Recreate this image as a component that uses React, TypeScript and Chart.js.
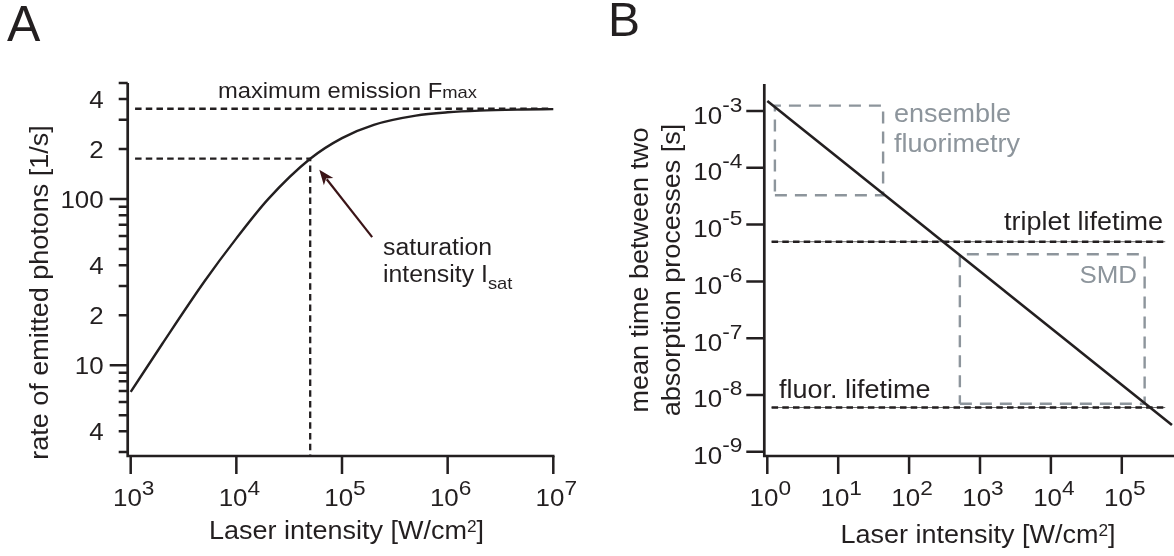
import React, { useEffect, useRef } from 'react';
import { Chart, registerables } from 'chart.js';

Chart.register(...registerables);

const FONT = '"Liberation Sans", Arial, Helvetica, sans-serif';
const INK = '#231f20';
const GRAY = '#8d959c';
const ARROW_COLOR = '#3b1417';
const STRETCH = 1.08;

// ---------- Panel A: saturation curve ----------
const laserIntensityA = [1e3, 2e3, 5e3, 1e4, 2e4, 5e4, 1e5, 2e5, 5e5, 1e6, 2e6, 5e6, 1e7];
const emissionRateA = [6.9, 13.5, 32, 58, 100, 175, 233, 280, 318, 333, 341, 346, 348];
const maxEmission = 350;
const maxEmissionLineX = [1.1e3, 9.3e6];
const satIntensity = 5e4;
const halfEmission = 175;
const satLineStartX = 1.1e3;
const satLineBottomY = 2.85;
const arrowTailA = [1.93e5, 59];
const arrowTipA = [6.1e4, 150];
const xLimitsA = [1e3, 1e7];
const yLimitsA = [3, 500];
const xTickValuesA = [1e3, 1e4, 1e5, 1e6, 1e7];
const xTickExponentsA = ['3', '4', '5', '6', '7'];
const yLabelValuesA = [4, 10, 20, 40, 100, 200, 400];
const yLabelTextsA = ['4', '10', '2', '4', '100', '2', '4'];
const yMajorTicksA = [10, 100];
const yMinorTicksA = [3, 4, 5, 6, 7, 8, 9, 20, 30, 40, 50, 60, 70, 80, 90, 200, 300, 400, 500];

// ---------- Panel B: mean time between absorptions ----------
const laserIntensityB = [1, 5.1e5];
const meanTimeB = [1.5e-3, 2.95e-9];
const tripletLifetime = 5e-6;
const fluorLifetime = 6e-9;
const lifetimeLineX = [1.15, 4.1e5];
const ensembleBoxX = [1.28, 43];
const ensembleBoxY = [3.3e-5, 1.25e-3];
const smdBoxX = [520, 2.1e5];
const smdBoxY = [7e-9, 3e-6];
const xLimitsB = [1, 5.45e5];
const yLimitsB = [1e-9, 3e-3];
const xTickValuesB = [1, 10, 100, 1e3, 1e4, 1e5];
const xTickExponentsB = ['0', '1', '2', '3', '4', '5'];
const yTickValuesB = [1e-9, 1e-8, 1e-7, 1e-6, 1e-5, 1e-4, 1e-3];
const yTickExponentsB = ['-9', '-8', '-7', '-6', '-5', '-4', '-3'];

type Part = { t: string; size: number; dy?: number; color?: string };

function drawParts(
  ctx: CanvasRenderingContext2D,
  parts: Part[],
  x: number,
  y: number,
  align: 'left' | 'center' | 'right' = 'left',
  rot = 0,
  sx = STRETCH
) {
  ctx.save();
  ctx.translate(x, y);
  if (rot) ctx.rotate(rot);
  ctx.scale(sx, 1);
  ctx.textBaseline = 'alphabetic';
  ctx.textAlign = 'left';
  let total = 0;
  const widths = parts.map((p) => {
    ctx.font = `${p.size}px ${FONT}`;
    const w = ctx.measureText(p.t).width;
    total += w;
    return w;
  });
  let cx = align === 'left' ? 0 : align === 'center' ? -total / 2 : -total;
  parts.forEach((p, i) => {
    ctx.font = `${p.size}px ${FONT}`;
    ctx.fillStyle = p.color || INK;
    ctx.fillText(p.t, cx, p.dy || 0);
    cx += widths[i];
  });
  ctx.restore();
}

function seg(points: { x: number; y: number }[], color: string, width: number, dash: number[] = []) {
  return {
    data: points,
    showLine: true,
    borderColor: color,
    borderWidth: width,
    borderDash: dash,
    pointRadius: 0,
    tension: 0,
    fill: false,
    clip: false as any,
  };
}

function boxPoints(xr: number[], yr: number[]) {
  return [
    { x: xr[0], y: yr[0] },
    { x: xr[1], y: yr[0] },
    { x: xr[1], y: yr[1] },
    { x: xr[0], y: yr[1] },
    { x: xr[0], y: yr[0] },
  ];
}

const BLACK_DASH = [6.5, 4.2];
const GRAY_DASH = [12, 8];

function datasetsA() {
  return [
    {
      ...seg(
        laserIntensityA.map((x, i) => ({ x, y: emissionRateA[i] })),
        INK,
        2.4
      ),
      cubicInterpolationMode: 'monotone',
    },
    seg(
      [
        { x: maxEmissionLineX[0], y: maxEmission },
        { x: maxEmissionLineX[1], y: maxEmission },
      ],
      INK,
      2.3,
      BLACK_DASH
    ),
    seg(
      [
        { x: satLineStartX, y: halfEmission },
        { x: satIntensity, y: halfEmission },
        { x: satIntensity, y: satLineBottomY },
      ],
      INK,
      2.3,
      BLACK_DASH
    ),
  ];
}

function datasetsB() {
  return [
    seg(
      laserIntensityB.map((x, i) => ({ x, y: meanTimeB[i] })),
      INK,
      2.6
    ),
    seg(
      [
        { x: lifetimeLineX[0], y: tripletLifetime },
        { x: lifetimeLineX[1], y: tripletLifetime },
      ],
      INK,
      2.4,
      BLACK_DASH
    ),
    seg(
      [
        { x: lifetimeLineX[0], y: tripletLifetime },
        { x: lifetimeLineX[1], y: tripletLifetime },
      ],
      '#6a6a6a',
      1
    ),
    seg(
      [
        { x: lifetimeLineX[0], y: fluorLifetime },
        { x: lifetimeLineX[1], y: fluorLifetime },
      ],
      INK,
      2.4,
      BLACK_DASH
    ),
    seg(
      [
        { x: lifetimeLineX[0], y: fluorLifetime },
        { x: lifetimeLineX[1], y: fluorLifetime },
      ],
      '#6a6a6a',
      1
    ),
    seg(boxPoints(ensembleBoxX, ensembleBoxY), GRAY, 2.4, GRAY_DASH),
    seg(boxPoints(smdBoxX, smdBoxY), GRAY, 2.4, GRAY_DASH),
  ];
}

const panelAPlugin = {
  id: 'panelA',
  afterDatasetsDraw(chart: any) {
    const ctx: CanvasRenderingContext2D = chart.ctx;
    const ca = chart.chartArea;
    const xs = chart.scales.x;
    const ys = chart.scales.y;
    const axX = ca.left - 3;
    const axY = ca.bottom + 4;
    ctx.save();
    ctx.strokeStyle = INK;
    ctx.lineCap = 'butt';
    ctx.lineWidth = 2.7;
    ctx.beginPath();
    ctx.moveTo(axX, ca.top);
    ctx.lineTo(axX, axY + 1.35);
    ctx.moveTo(axX - 1.35, axY);
    ctx.lineTo(ca.right + 1.2, axY);
    ctx.stroke();

    ctx.lineWidth = 2.5;
    ctx.beginPath();
    yMinorTicksA.forEach((v) => {
      const p = ys.getPixelForValue(v);
      ctx.moveTo(axX, p);
      ctx.lineTo(axX - 9, p);
    });
    yMajorTicksA.forEach((v) => {
      const p = ys.getPixelForValue(v);
      ctx.moveTo(axX, p);
      ctx.lineTo(axX - 18, p);
    });
    xTickValuesA.forEach((v) => {
      const p = xs.getPixelForValue(v);
      ctx.moveTo(p, axY);
      ctx.lineTo(p, axY + 18);
    });
    ctx.stroke();

    yLabelValuesA.forEach((v, i) =>
      drawParts(ctx, [{ t: yLabelTextsA[i], size: 24 }], axX - 24, ys.getPixelForValue(v) + 8.5, 'right')
    );
    xTickValuesA.forEach((v, i) =>
      drawParts(
        ctx,
        [
          { t: '10', size: 24 },
          { t: xTickExponentsA[i], size: 21, dy: -11 },
        ],
        xs.getPixelForValue(v) + 3,
        506,
        'center'
      )
    );

    drawParts(
      ctx,
      [
        { t: 'Laser intensity [W/cm', size: 25 },
        { t: '2', size: 16, dy: -7 },
        { t: ']', size: 25 },
      ],
      346.5,
      539,
      'center'
    );
    drawParts(ctx, [{ t: 'rate of emitted photons [1/s]', size: 25 }], 48, 292.5, 'center', -Math.PI / 2);

    drawParts(
      ctx,
      [
        { t: 'maximum emission F', size: 22 },
        { t: 'max', size: 17 },
      ],
      477,
      98,
      'right'
    );
    drawParts(ctx, [{ t: 'saturation', size: 23 }], 383, 255, 'left');
    drawParts(
      ctx,
      [
        { t: 'intensity I', size: 23 },
        { t: 'sat', size: 17, dy: 7 },
      ],
      383,
      282,
      'left'
    );

    // arrow
    const tx = xs.getPixelForValue(arrowTipA[0]);
    const ty = ys.getPixelForValue(arrowTipA[1]);
    const fx = xs.getPixelForValue(arrowTailA[0]);
    const fy = ys.getPixelForValue(arrowTailA[1]);
    const ang = Math.atan2(ty - fy, tx - fx);
    const hl = 15;
    const hw = 6;
    const bx = tx - hl * Math.cos(ang);
    const by = ty - hl * Math.sin(ang);
    ctx.strokeStyle = ARROW_COLOR;
    ctx.fillStyle = ARROW_COLOR;
    ctx.lineWidth = 2.2;
    ctx.beginPath();
    ctx.moveTo(fx, fy);
    ctx.lineTo(bx + 3 * Math.cos(ang), by + 3 * Math.sin(ang));
    ctx.stroke();
    ctx.beginPath();
    ctx.moveTo(tx, ty);
    ctx.lineTo(bx + hw * Math.sin(ang), by - hw * Math.cos(ang));
    ctx.lineTo(bx + 4 * Math.cos(ang), by + 4 * Math.sin(ang));
    ctx.lineTo(bx - hw * Math.sin(ang), by + hw * Math.cos(ang));
    ctx.closePath();
    ctx.fill();

    drawParts(ctx, [{ t: 'A', size: 50 }], 7, 41, 'left', 0, 1);
    ctx.restore();
  },
};

const panelBPlugin = {
  id: 'panelB',
  afterDatasetsDraw(chart: any) {
    const ctx: CanvasRenderingContext2D = chart.ctx;
    const ca = chart.chartArea;
    const xs = chart.scales.x;
    const ys = chart.scales.y;
    const axX = ca.left - 3;
    const axY = ca.bottom + 4.3;
    ctx.save();
    ctx.strokeStyle = INK;
    ctx.lineCap = 'butt';
    ctx.lineWidth = 2.7;
    ctx.beginPath();
    ctx.moveTo(axX, ca.top);
    ctx.lineTo(axX, axY + 1.35);
    ctx.moveTo(axX - 1.35, axY);
    ctx.lineTo(ca.right + 2, axY);
    ctx.stroke();

    ctx.lineWidth = 2.5;
    ctx.beginPath();
    yTickValuesB.forEach((v) => {
      const p = ys.getPixelForValue(v);
      ctx.moveTo(axX, p);
      ctx.lineTo(axX - 18, p);
    });
    xTickValuesB.forEach((v) => {
      const p = xs.getPixelForValue(v);
      ctx.moveTo(p, axY);
      ctx.lineTo(p, axY + 18);
    });
    ctx.stroke();

    yTickValuesB.forEach((v, i) =>
      drawParts(
        ctx,
        [
          { t: '10', size: 24 },
          { t: yTickExponentsB[i], size: 21, dy: -12 },
        ],
        axX - 22,
        ys.getPixelForValue(v) + 12.5,
        'right'
      )
    );
    xTickValuesB.forEach((v, i) =>
      drawParts(
        ctx,
        [
          { t: '10', size: 24 },
          { t: xTickExponentsB[i], size: 21, dy: -11 },
        ],
        xs.getPixelForValue(v) + 3,
        506,
        'center'
      )
    );

    drawParts(
      ctx,
      [
        { t: 'Laser intensity [W/cm', size: 25 },
        { t: '2', size: 16, dy: -7 },
        { t: ']', size: 25 },
      ],
      391,
      543,
      'center'
    );
    drawParts(ctx, [{ t: 'mean time between two', size: 25 }], 61, 270, 'center', -Math.PI / 2);
    drawParts(ctx, [{ t: 'absorption processes [s]', size: 25 }], 93, 270, 'center', -Math.PI / 2);

    drawParts(ctx, [{ t: 'ensemble', size: 25, color: GRAY }], 307, 122, 'left');
    drawParts(ctx, [{ t: 'fluorimetry', size: 25, color: GRAY }], 307, 152, 'left');
    drawParts(ctx, [{ t: 'SMD', size: 24, color: GRAY }], 550, 283, 'right');
    drawParts(ctx, [{ t: 'triplet lifetime', size: 25 }], 576, 230, 'right');
    drawParts(ctx, [{ t: 'fluor. lifetime', size: 25 }], 192, 398, 'left');

    drawParts(ctx, [{ t: 'B', size: 48 }], 21, 36, 'left', 0, 1);
    ctx.restore();
  },
};

function makeChart(
  canvas: HTMLCanvasElement,
  datasets: any[],
  xLim: number[],
  yLim: number[],
  padding: { left: number; right: number; top: number; bottom: number },
  plugin: any
) {
  return new Chart(canvas, {
    type: 'scatter',
    data: { datasets },
    options: {
      responsive: false,
      animation: false,
      events: [],
      layout: { padding },
      plugins: {
        legend: { display: false },
        tooltip: { enabled: false },
        title: { display: false },
      },
      scales: {
        x: { type: 'logarithmic', min: xLim[0], max: xLim[1], display: false },
        y: { type: 'logarithmic', min: yLim[0], max: yLim[1], display: false },
      },
      elements: { point: { radius: 0 } },
    } as any,
    plugins: [plugin],
  });
}

export default function App() {
  const refA = useRef<HTMLCanvasElement>(null);
  const refB = useRef<HTMLCanvasElement>(null);

  useEffect(() => {
    const a = makeChart(
      refA.current!,
      datasetsA(),
      xLimitsA,
      yLimitsA,
      { left: 130.7, right: 33.7, top: 83, bottom: 104 },
      panelAPlugin
    );
    const b = makeChart(
      refB.current!,
      datasetsB(),
      xLimitsB,
      yLimitsB,
      { left: 180.3, right: 0, top: 84, bottom: 104.3 },
      panelBPlugin
    );
    return () => {
      a.destroy();
      b.destroy();
    };
  }, []);

  return (
    <div
      style={{
        position: 'absolute',
        left: 0,
        top: 0,
        width: 1174,
        height: 556,
        background: '#fff',
        overflow: 'hidden',
      }}
    >
      <canvas ref={refA} width={587} height={556} style={{ position: 'absolute', left: 0, top: 0 }} />
      <canvas ref={refB} width={587} height={556} style={{ position: 'absolute', left: 587, top: 0 }} />
    </div>
  );
}
